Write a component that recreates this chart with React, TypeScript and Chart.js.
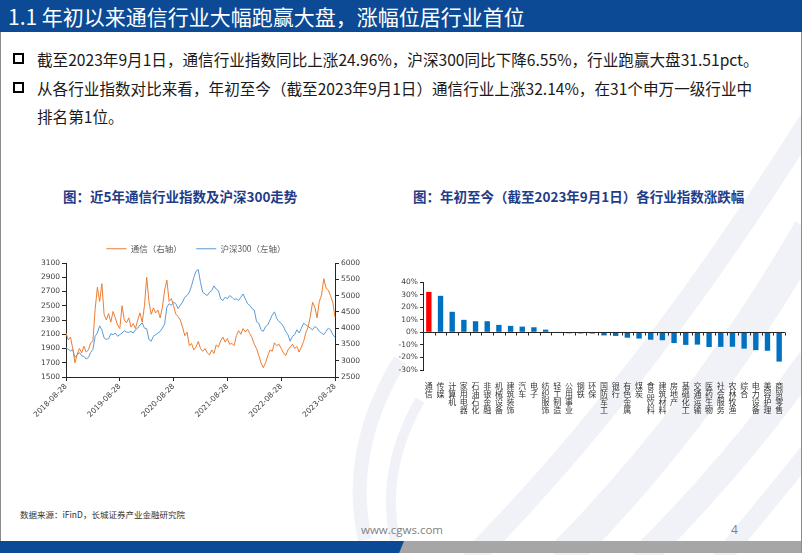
import React, { useEffect, useRef } from 'react';
import { Chart, registerables } from 'chart.js';

Chart.register(...registerables);

// ---------- texts ----------
const slideTitle = '1.1 年初以来通信行业大幅跑赢大盘，涨幅位居行业首位';
const bulletLine1 = '截至2023年9月1日，通信行业指数同比上涨24.96%，沪深300同比下降6.55%，行业跑赢大盘31.51pct。';
const bulletLine2 = '从各行业指数对比来看，年初至今（截至2023年9月1日）通信行业上涨32.14%，在31个申万一级行业中';
const bulletLine3 = '排名第1位。';
const lineChartTitle = '图：近5年通信行业指数及沪深300走势';
const barChartTitle = '图：年初至今（截至2023年9月1日）各行业指数涨跌幅';
const sourceNote = '数据来源：iFinD，长城证券产业金融研究院';
const siteText = 'www.cgws.com';
const pageNumber = '4';

// ---------- line chart data (semi-monthly, 2018-08-28 .. 2023-08-28) ----------
const seriesNames = ['通信（右轴）', '沪深300（左轴）'];
const lineTickEvery = 24; // a labelled tick every 12 months
const telecomIndex = [
  2120, 2020, 2060, 1900, 1700, 1820, 1900, 1840, 1930, 1850,
  1880, 1980, 2000, 2450, 2760, 2560, 2810, 2380, 2300, 2390,
  2270, 2420, 2330, 2230, 2180, 2500, 2300, 2260, 2330, 2200,
  2250, 2180, 2300, 2400, 2270, 2500, 2900, 2560, 2380, 2470,
  2400, 2440, 2330, 2480, 2720, 2860, 2560, 2600, 2500, 2380,
  2350, 2300, 2200, 2080, 2130, 1940, 1970, 1880, 1920, 2000,
  1900, 1860, 1900, 1840, 1810, 1880, 1830, 1950, 1920, 2010,
  2060, 1990, 2040, 1960, 1970, 1940, 2080, 2150, 2100, 2180,
  2130, 2170, 2110, 2050, 1960, 1900, 1800, 1700, 1630, 1700,
  1800, 1880, 1860, 1980, 1940, 1960, 1900, 1840, 1800, 1880,
  1920, 1960, 1900, 1930, 1850, 1920, 2000, 2120, 2200, 2350,
  2550, 2480, 2330, 2560, 2650, 2880, 2750, 2720, 2640, 2550,
  2340,
];
const hs300Index = [
  3400, 3350, 3300, 3350, 3100, 3180, 3250, 3150, 3130, 3050,
  3100, 3250, 3350, 3750, 3850, 4070, 3950, 3700, 3650, 3680,
  3830, 3800, 3850, 3750, 3800, 3850, 3920, 3880, 3870, 3900,
  3850, 3950, 4000, 4100, 4160, 4000, 3980, 3650, 3600, 3750,
  3800, 3850, 3900, 4000, 4130, 4650, 4750, 4700, 4800, 4750,
  4600, 4700, 4800, 4950, 5000, 5100, 5300, 5550, 5750, 5800,
  5400, 5100, 5050, 5000, 5100, 5150, 5300, 5200, 5150, 4900,
  4850, 4950, 4900, 5000, 4950, 4880, 4900, 4850, 4950, 5050,
  4900, 4750, 4700, 4600, 4550, 4200, 4150, 3950, 3900, 4050,
  4100, 4250, 4400, 4500, 4300, 4200, 4150, 4050, 3900, 3800,
  3600, 3750, 3800, 3950, 3850, 4000, 4150, 4100, 4050, 4000,
  3950, 4050, 4000, 3900, 3850, 3800, 3900, 4000, 3950, 3800,
  3720,
];
const leftAxisRange = [1500, 3100, 200];
const rightAxisRange = [2500, 6000, 500];

// date labels for each semi-monthly observation
const lineDates: string[] = telecomIndex.map((_, i) => {
  const monthsAfter = Math.floor(i / 2) + (i % 2);
  const total = 2018 * 12 + 7 + monthsAfter; // August 2018 = month index 7
  const y = Math.floor(total / 12);
  const m = (total % 12) + 1;
  const d = i % 2 === 0 ? '28' : '13';
  return `${y}-${String(m).padStart(2, '0')}-${d}`;
});

// ---------- bar chart data ----------
const industries = [
  '通信', '传媒', '计算机', '家用电器', '石油石化', '非银金融', '机械设备', '建筑装饰', '汽车', '电子',
  '纺织服饰', '轻工制造', '公用事业', '钢铁', '环保', '国防军工', '银行', '有色金属', '煤炭', '食品饮料',
  '建筑材料', '房地产', '基础化工', '交通运输', '医药生物', '社会服务', '农林牧渔', '综合', '电力设备', '美容护理',
  '商贸零售',
];
const ytdChange = [
  32.14, 29.0, 16.3, 9.9, 8.8, 8.8, 5.9, 5.1, 4.5, 4.0,
  2.1, -0.5, -0.8, -0.9, -1.0, -2.5, -2.9, -4.3, -5.0, -5.9,
  -6.3, -8.6, -10.0, -9.8, -11.7, -11.6, -11.5, -13.0, -14.2, -14.7,
  -23.3,
];
const barAxisRange = [-30, 40, 10];

// ---------- styles ----------
const FONT_CJK = "'Noto Sans CJK SC', 'Noto Sans', sans-serif";
const FONT_AXIS = "'DejaVu Sans', 'Noto Sans CJK SC', sans-serif";
const ORANGE = '#ED7D31';
const BLUE_LINE = '#5B9BD5';
const BAR_BLUE = '#0070C0';
const BAR_RED = '#FF0000';
const AXIS_COLOR = '#262626';
const TICK_TEXT = '#404040';

function LineChart() {
  const ref = useRef<HTMLCanvasElement | null>(null);
  useEffect(() => {
    if (!ref.current) return;
    const chart = new Chart(ref.current, {
      type: 'line',
      data: {
        labels: lineDates,
        datasets: [
          {
            label: seriesNames[0],
            data: telecomIndex,
            borderColor: ORANGE,
            backgroundColor: ORANGE,
            borderWidth: 1,
            pointRadius: 0,
            tension: 0,
            yAxisID: 'y',
          },
          {
            label: seriesNames[1],
            data: hs300Index,
            borderColor: BLUE_LINE,
            backgroundColor: BLUE_LINE,
            borderWidth: 1,
            pointRadius: 0,
            tension: 0,
            yAxisID: 'y1',
          },
        ],
      },
      options: {
        animation: false,
        responsive: false,
        devicePixelRatio: 1,
        layout: { padding: { top: 0, left: 0, right: 0, bottom: 0 } },
        plugins: {
          tooltip: { enabled: false },
          legend: {
            display: true,
            position: 'top',
            labels: {
              usePointStyle: true,
              pointStyle: 'line',
              pointStyleWidth: 20,
              boxHeight: 8,
              padding: 14.5,
              color: '#595959',
              font: { family: FONT_CJK, size: 8.5 },
            },
          },
        },
        scales: {
          x: {
            type: 'category',
            offset: false,
            grid: { display: true, drawOnChartArea: false, drawTicks: true, tickLength: 4, color: AXIS_COLOR },
            border: { display: true, color: AXIS_COLOR },
            ticks: {
              autoSkip: false,
              minRotation: 45,
              maxRotation: 45,
              padding: 1,
              color: TICK_TEXT,
              font: { family: FONT_AXIS, size: 7.5 },
              callback: (_v: any, index: number) => (index % lineTickEvery === 0 ? lineDates[index] : null),
            },
            afterFit: (s: any) => { s.height = 43; },
          },
          y: {
            position: 'left',
            min: leftAxisRange[0],
            max: leftAxisRange[1],
            grid: { display: true, drawOnChartArea: false, drawTicks: true, tickLength: 4, color: AXIS_COLOR },
            border: { display: true, color: AXIS_COLOR },
            ticks: {
              stepSize: leftAxisRange[2],
              color: TICK_TEXT,
              padding: 2,
              font: { family: FONT_AXIS, size: 7.5 },
              callback: (v: any) => String(v),
            },
            afterFit: (s: any) => { s.width = 46; },
          },
          y1: {
            position: 'right',
            min: rightAxisRange[0],
            max: rightAxisRange[1],
            grid: { display: true, drawOnChartArea: false, drawTicks: true, tickLength: 4, color: AXIS_COLOR },
            border: { display: true, color: AXIS_COLOR },
            ticks: {
              stepSize: rightAxisRange[2],
              color: TICK_TEXT,
              padding: 2,
              font: { family: FONT_AXIS, size: 7.5 },
              callback: (v: any) => String(v),
            },
            afterFit: (s: any) => { s.width = 37; },
          },
        },
      },
    } as any);
    return () => chart.destroy();
  }, []);
  return <canvas ref={ref} width={352} height={190} style={{ display: 'block', width: 352, height: 190 }} />;
}

const zeroLinePlugin = {
  id: 'zeroLine',
  afterDatasetsDraw(chart: any) {
    const { ctx, chartArea, scales } = chart;
    const y0 = Math.round(scales.y.getPixelForValue(0)) + 0.5;
    const n = chart.data.labels.length;
    ctx.save();
    ctx.strokeStyle = AXIS_COLOR;
    ctx.lineWidth = 1;
    ctx.beginPath();
    ctx.moveTo(chartArea.left, y0);
    ctx.lineTo(chartArea.right, y0);
    for (let i = 0; i <= n; i++) {
      const x = Math.round(scales.x.getPixelForValue(i - 0.5)) + 0.5;
      ctx.moveTo(x, y0);
      ctx.lineTo(x, y0 + 3);
    }
    ctx.stroke();
    ctx.restore();
  },
};

function BarChart() {
  const ref = useRef<HTMLCanvasElement | null>(null);
  useEffect(() => {
    if (!ref.current) return;
    const chart = new Chart(ref.current, {
      type: 'bar',
      data: {
        labels: industries.map((s) => s.split('')),
        datasets: [
          {
            data: ytdChange,
            backgroundColor: ytdChange.map((_, i) => (i === 0 ? BAR_RED : BAR_BLUE)),
            borderWidth: 0,
            barPercentage: 0.46,
            categoryPercentage: 1,
          },
        ],
      },
      options: {
        animation: false,
        responsive: false,
        devicePixelRatio: 1,
        layout: { padding: { top: 14, left: 0, right: 5, bottom: 0 } },
        plugins: { legend: { display: false }, tooltip: { enabled: false } },
        scales: {
          x: {
            grid: { display: false },
            border: { display: false },
            ticks: {
              autoSkip: false,
              minRotation: 0,
              maxRotation: 0,
              padding: 4,
              color: '#333',
              font: { family: FONT_CJK, size: 8, lineHeight: 1.0 },
            },
            afterFit: (s: any) => { s.height = 48; },
          },
          y: {
            min: barAxisRange[0],
            max: barAxisRange[1],
            grid: { display: true, drawOnChartArea: false, drawTicks: true, tickLength: 3, color: AXIS_COLOR },
            border: { display: true, color: AXIS_COLOR },
            ticks: {
              stepSize: barAxisRange[2],
              padding: 2,
              color: TICK_TEXT,
              font: { family: FONT_AXIS, size: 7.5 },
              callback: (v: any) => `${v}%`,
            },
            afterFit: (s: any) => { s.width = 33; },
          },
        },
      },
      plugins: [zeroLinePlugin],
    } as any);
    return () => chart.destroy();
  }, []);
  return <canvas ref={ref} width={400} height={150} style={{ display: 'block', width: 400, height: 150 }} />;
}

function BulletBox({ top }: { top: number }) {
  return (
    <div
      style={{
        position: 'absolute',
        left: 13,
        top,
        width: 7,
        height: 7,
        border: '2px solid #000',
        background: '#fff',
      }}
    />
  );
}

export default function App() {
  const textBase: React.CSSProperties = {
    position: 'absolute',
    whiteSpace: 'nowrap',
    fontFamily: FONT_CJK,
  };
  return (
    <div
      style={{
        position: 'fixed',
        left: 0,
        top: 0,
        width: 802,
        height: 555,
        background: '#fff',
        overflow: 'hidden',
      }}
    >
      {/* watermark swooshes */}
      <svg width={802} height={555} style={{ position: 'absolute', left: 0, top: 0 }}>
        <g fill="none" stroke="#F0F2F7" strokeLinecap="butt">
          <path d="M 560 560 Q 700 420 810 230" strokeWidth={34} />
          <path d="M 640 560 Q 740 460 810 360" strokeWidth={26} />
          <path d="M 470 560 Q 640 390 810 120" strokeWidth={22} />
          <path d="M 720 560 Q 770 500 810 450" strokeWidth={18} />
          <path d="M 365 540 Q 345 450 400 360" strokeWidth={14} />
          <path d="M 395 540 Q 380 470 420 400" strokeWidth={10} />
        </g>
      </svg>

      {/* slide frame */}
      <div style={{ position: 'absolute', left: 0, top: 0, width: 800, height: 552, border: '1px solid #8c8c8c', borderTop: 'none' }} />

      {/* header bar */}
      <div style={{ position: 'absolute', left: 0, top: 0, width: 802, height: 32, background: '#0C4A96' }} />
      <div style={{ ...textBase, left: 8, top: 2, height: 28, lineHeight: '28px', fontSize: 21, color: '#fff' }}>
        {slideTitle}
      </div>

      {/* bullets */}
      <BulletBox top={53} />
      <div style={{ ...textBase, left: 37, top: 49, height: 20, lineHeight: '20px', fontSize: 15.6, color: '#1a1a1a' }}>
        {bulletLine1}
      </div>
      <BulletBox top={82} />
      <div style={{ ...textBase, left: 37, top: 78, height: 20, lineHeight: '20px', fontSize: 15.6, color: '#1a1a1a' }}>
        {bulletLine2}
      </div>
      <div style={{ ...textBase, left: 37, top: 106, height: 20, lineHeight: '20px', fontSize: 15.6, color: '#1a1a1a' }}>
        {bulletLine3}
      </div>

      {/* chart titles */}
      <div style={{ ...textBase, left: 63, top: 187, height: 18, lineHeight: '18px', fontSize: 13.5, fontWeight: 700, color: '#1F3C88' }}>
        {lineChartTitle}
      </div>
      <div style={{ ...textBase, left: 413, top: 187, height: 18, lineHeight: '18px', fontSize: 13.5, fontWeight: 700, color: '#1F3C88' }}>
        {barChartTitle}
      </div>

      {/* charts */}
      <div style={{ position: 'absolute', left: 20, top: 230 }}>
        <LineChart />
      </div>
      <div style={{ position: 'absolute', left: 390, top: 268 }}>
        <BarChart />
      </div>

      {/* footer */}
      <div style={{ ...textBase, left: 20, top: 508, height: 12, lineHeight: '12px', fontSize: 8.5, color: '#333' }}>
        {sourceNote}
      </div>
      <div style={{ ...textBase, left: 361, top: 522, height: 16, lineHeight: '16px', fontSize: 11.5, color: '#7F7F7F', fontFamily: "'Open Sans', 'Liberation Sans', sans-serif" }}>
        {siteText}
      </div>
      <div style={{ ...textBase, left: 731, top: 522, height: 16, lineHeight: '16px', fontSize: 12, color: '#7F7F7F', fontFamily: "'Open Sans', 'Liberation Sans', sans-serif" }}>
        {pageNumber}
      </div>

      {/* bottom bars */}
      <div style={{ position: 'absolute', left: 0, top: 541, width: 801, height: 12, background: '#A6A6A6' }} />
      <div style={{ position: 'absolute', left: 0, top: 541, width: 404, height: 12, background: '#0C4A96', clipPath: 'polygon(0 0, 100% 0, 98.8% 100%, 0 100%)' }} />
    </div>
  );
}
